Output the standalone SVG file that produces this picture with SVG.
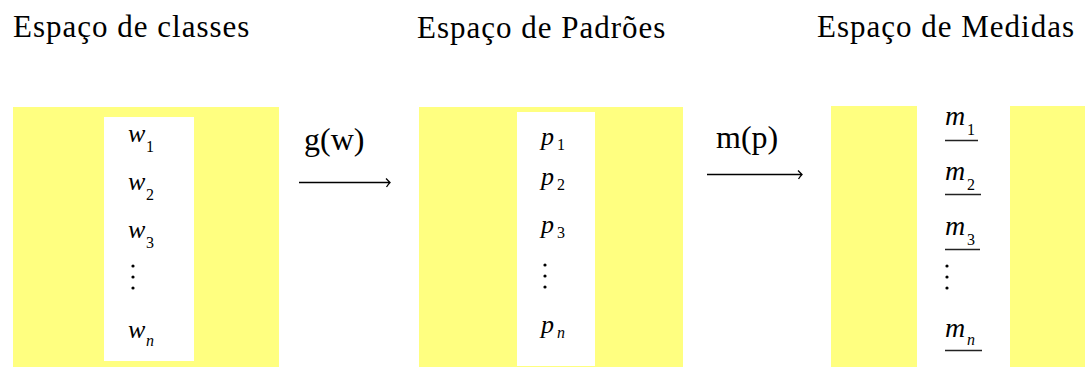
<svg xmlns="http://www.w3.org/2000/svg" width="1085" height="367" viewBox="0 0 1085 367">
<style>
.panel{fill:#FFFF80}
.list{fill:#FFFFFF}
.arrow{stroke:#000;stroke-width:1.3;fill:none}
.uline{stroke:#222;stroke-width:1.3}
.dot{fill:#000}
</style>
<rect width="1085" height="367" fill="#FFFFFF"/>

<g id="classes">
  <text x="13" y="37" font-family="Liberation Serif" font-size="31" letter-spacing="1">Espaço de classes</text>
  <rect class="panel" x="13" y="107" width="266" height="260"/>
  <rect class="list" x="104" y="117" width="90" height="244"/>
  <text x="128" y="142" font-family="Liberation Serif" font-style="italic" font-size="26">w<tspan x="146" y="152" font-style="normal" font-size="16">1</tspan></text>
  <text x="128" y="190" font-family="Liberation Serif" font-style="italic" font-size="26">w<tspan x="146" y="200" font-style="normal" font-size="16">2</tspan></text>
  <text x="128" y="238" font-family="Liberation Serif" font-style="italic" font-size="26">w<tspan x="146" y="248" font-style="normal" font-size="16">3</tspan></text>
  <circle class="dot" cx="133" cy="266" r="1.6"/>
  <circle class="dot" cx="133" cy="277" r="1.6"/>
  <circle class="dot" cx="133" cy="288" r="1.6"/>
  <text x="128" y="338" font-family="Liberation Serif" font-style="italic" font-size="26">w<tspan x="146" y="346" font-size="16">n</tspan></text>
</g>

<g id="padroes">
  <text x="417" y="38" font-family="Liberation Serif" font-size="31" letter-spacing="1">Espaço de Padrões</text>
  <rect class="panel" x="419" y="107" width="264" height="260"/>
  <rect class="list" x="517" y="112" width="78" height="254"/>
  <text x="541" y="145" font-family="Liberation Serif" font-style="italic" font-size="26">p<tspan x="557" y="150" font-style="normal" font-size="16">1</tspan></text>
  <text x="541" y="185" font-family="Liberation Serif" font-style="italic" font-size="26">p<tspan x="557" y="190" font-style="normal" font-size="16">2</tspan></text>
  <text x="541" y="233" font-family="Liberation Serif" font-style="italic" font-size="26">p<tspan x="557" y="238" font-style="normal" font-size="16">3</tspan></text>
  <circle class="dot" cx="545" cy="265" r="1.6"/>
  <circle class="dot" cx="545" cy="276" r="1.6"/>
  <circle class="dot" cx="545" cy="287" r="1.6"/>
  <text x="541" y="333" font-family="Liberation Serif" font-style="italic" font-size="26">p<tspan x="557" y="338" font-size="16">n</tspan></text>
</g>

<g id="medidas">
  <text x="817" y="37" font-family="Liberation Serif" font-size="31" letter-spacing="1">Espaço de Medidas</text>
  <rect class="panel" x="831" y="106" width="254" height="261"/>
  <rect class="list" x="917" y="106" width="93" height="261"/>
  <text x="945" y="125" font-family="Liberation Serif" font-style="italic" font-size="28">m<tspan x="967" y="135" font-style="normal" font-size="16">1</tspan></text>
  <line class="uline" x1="945" y1="140.5" x2="978" y2="140.5"/>
  <text x="945" y="180" font-family="Liberation Serif" font-style="italic" font-size="28">m<tspan x="967" y="190" font-style="normal" font-size="16">2</tspan></text>
  <line class="uline" x1="945" y1="194.5" x2="981" y2="194.5"/>
  <text x="945" y="235" font-family="Liberation Serif" font-style="italic" font-size="28">m<tspan x="967" y="245" font-style="normal" font-size="16">3</tspan></text>
  <line class="uline" x1="945" y1="249.5" x2="980" y2="249.5"/>
  <circle class="dot" cx="947" cy="266" r="1.6"/>
  <circle class="dot" cx="947" cy="277" r="1.6"/>
  <circle class="dot" cx="947" cy="288" r="1.6"/>
  <text x="945" y="337" font-family="Liberation Serif" font-style="italic" font-size="28">m<tspan x="967" y="345" font-size="16">n</tspan></text>
  <line class="uline" x1="945" y1="350.5" x2="982" y2="350.5"/>
</g>

<g id="connectors">
  <text x="304" y="150" font-family="Liberation Serif" font-size="32">g(w)</text>
  <path class="arrow" d="M299 182.5 H390 M386 178.5 Q388.5 181 390 182.5 Q388.5 184 386.5 187"/>
  <text x="716" y="148" font-family="Liberation Serif" font-size="32">m(p)</text>
  <path class="arrow" d="M707 174.5 H802 M798 170.5 Q800.5 173 802 174.5 Q800.5 176 798.5 179"/>
</g>
</svg>
